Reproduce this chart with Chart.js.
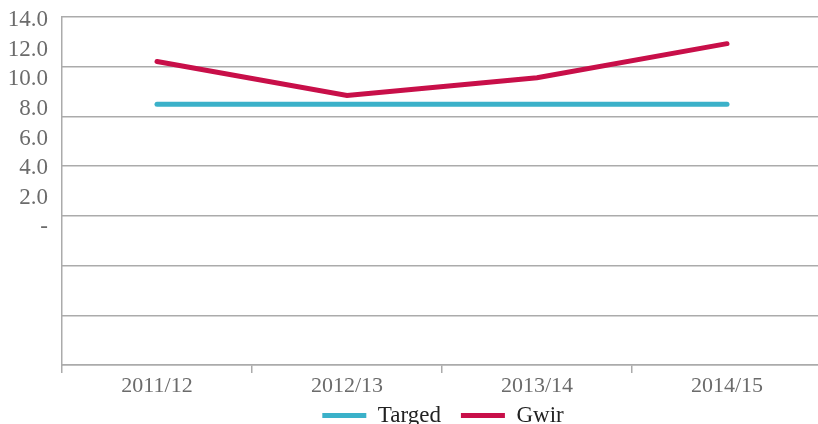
<!DOCTYPE html>
<html>
<head>
<meta charset="utf-8">
<script src="https://cdn.jsdelivr.net/npm/chart.js@4/dist/chart.umd.min.js"></script>
<style>
  html, body { margin: 0; padding: 0; background: #fff; overflow: hidden; }
  #wrap { position: relative; width: 822px; height: 424px; }
</style>
</head>
<body>
<div id="wrap"><canvas id="lineChart"></canvas></div>
<script>
const years = ["2011/12", "2012/13", "2013/14", "2014/15"];
const targed = [8.1, 8.1, 8.1, 8.1];
const gwir = [11.0, 8.7, 9.9, 12.2];
const yTicks = [0, 2, 4, 6, 8, 10, 12, 14];

const FONT = "'Liberation Serif', serif";
const GRID = "#ababab";

// nudge legend like the original layout
const legendShift = {
  id: "legendShift",
  afterLayout(chart) {
    const lg = chart.legend;
    if (lg) {
      lg.left += 32;
      lg.right += 32;
      lg.top -= 14;
      lg.bottom = chart.height;
    }
  },
};

function renderChart(labels, target, actual) {
  const ctx = document.getElementById("lineChart").getContext("2d");

  new Chart(ctx, {
    type: "line",
    data: {
      labels: labels,
      datasets: [
        {
          label: "Targed",
          data: target,
          borderColor: "#3bb1c9",
          backgroundColor: "#3bb1c9",
          borderWidth: 5,
          borderCapStyle: "round",
          pointRadius: 0,
          tension: 0,
        },
        {
          label: "Gwir",
          data: actual,
          borderColor: "#c80f49",
          backgroundColor: "#c80f49",
          borderWidth: 5,
          borderCapStyle: "round",
          pointRadius: 0,
          tension: 0,
        },
      ],
    },
    plugins: [legendShift],
    options: {
      responsive: true,
      maintainAspectRatio: false,
      animation: false,
      layout: { padding: { top: 17, left: 0, right: 0, bottom: 0 } },
      plugins: {
        tooltip: { enabled: false },
        legend: {
          position: "bottom",
          maxHeight: 26,
          labels: {
            boxWidth: 44,
            boxHeight: 5,
            padding: 20,
            color: "#222",
            font: { family: FONT, size: 23 },
            generateLabels: (chart) =>
              Chart.defaults.plugins.legend.labels
                .generateLabels(chart)
                .map((l) => ({ ...l, lineWidth: 0 })),
          },
        },
      },
      scales: {
        x: {
          offset: true,
          afterFit: (scale) => {
            scale.height = 33;
          },
          grid: {
            offset: true,
            drawOnChartArea: false,
            drawTicks: true,
            tickLength: 8,
            color: GRID,
            lineWidth: 1.5,
          },
          border: { color: GRID, width: 1.5 },
          ticks: {
            color: "#6b6b6b",
            padding: 0,
            font: { family: FONT, size: 22 },
          },
        },
        y: {
          position: "left",
          min: -9.5,
          max: 14,
          afterBuildTicks: (scale) => {
            scale.ticks = yTicks.map((v) => ({ value: v }));
          },
          afterFit: (scale) => {
            scale.width = 62;
            scale.paddingTop = 0;
            scale.paddingBottom = 0;
          },
          grid: { display: false, drawTicks: false },
          border: { display: true, color: GRID, width: 1.5 },
          ticks: {
            color: "#6b6b6b",
            padding: 14,
            labelOffset: 3,
            font: { family: FONT, size: 23 },
            callback: (v) => (v === 0 ? "-" : v.toFixed(1)),
          },
        },
        grid7: {
          position: "right",
          min: 0,
          max: 7,
          afterFit: (scale) => {
            scale.width = 0;
            scale.paddingTop = 0;
            scale.paddingBottom = 0;
          },
          ticks: { display: false, stepSize: 1 },
          grid: { color: GRID, lineWidth: 1.5, drawTicks: false },
          border: { display: false },
        },
      },
    },
  });
}

renderChart(years, targed, gwir);
</script>
</body>
</html>
